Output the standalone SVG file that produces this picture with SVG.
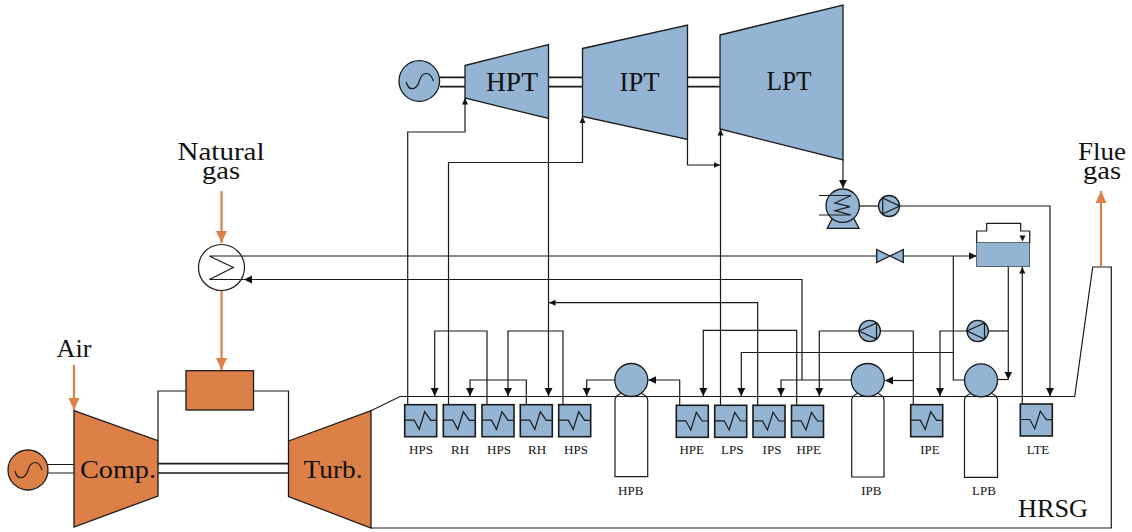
<svg xmlns="http://www.w3.org/2000/svg" xmlns:xlink="http://www.w3.org/1999/xlink" width="1132" height="532" viewBox="0 0 1132 532">
<style>
.l{fill:none;stroke:#1a1a1a;stroke-width:1.2}
.s{fill:none;stroke:#1a1a1a;stroke-width:1.7}
.o{fill:none;stroke:#dc8048;stroke-width:2.2}
.b{fill:#93b4d2;stroke:#1a1a1a;stroke-width:1.3}
.h{fill:#93b4d2;stroke:#1a1a1a;stroke-width:1.6}
.r{fill:#dc8048;stroke:#1a1a1a;stroke-width:1.3}
.w{fill:#fff;stroke:#1a1a1a;stroke-width:1.2}
.z{fill:none;stroke:#1a1a1a;stroke-width:1.2}
text{font-family:"Liberation Serif","Times New Roman",serif;fill:#111;text-anchor:middle}
.t{font-size:28px}
.g{font-size:26px}
.n{font-size:13px}
</style>
<defs>
<marker id="a" markerUnits="userSpaceOnUse" markerWidth="9" markerHeight="9" refX="8" refY="4.5" orient="auto"><path d="M0,0.5L8,4.5L0,8.500Z" fill="#111"/></marker>
<marker id="m" markerUnits="userSpaceOnUse" markerWidth="7" markerHeight="7" refX="6.500" refY="3.500" orient="auto"><path d="M0,0.500L6.500,3.500L0,6.500Z" fill="#111"/></marker>
<marker id="c" markerUnits="userSpaceOnUse" markerWidth="13" markerHeight="13" refX="12" refY="6" orient="auto"><path d="M0,0.500L12,6L0,11.500Z" fill="#dc8048"/></marker>
<g id="hx"><rect class="h" width="32" height="32"/><path class="z" d="M0,15.500H9.500L14.500,24.700L20,7L26,15.700H32"/></g>
<path id="sine" class="z" d="M-13,1C-11,10,-3,10,0,0C3,-10,11,-10,14,0"/>
</defs>

<g id="connectors">
<path class="l" d="M371,410.700L400,396.500H1074.700L1092.700,267H1111.300V528H371"/>
<path class="l" d="M158,441V391H186M253.500,391H288.500V441"/>
<path class="s" d="M158,463.700H288.500M158,473H288.500"/>
<path class="l" d="M47,464.500H74M47,473H74"/>
<path class="o" marker-end="url(#c)" d="M74,365V410"/>
<path class="o" marker-end="url(#c)" d="M221.500,191V243"/>
<path class="o" marker-end="url(#c)" d="M221.500,291V370"/>
<path class="o" marker-end="url(#c)" d="M1101,266V191"/>
<path class="s" d="M440,77.300H465M440,86.700H465M548.500,77.300H582.500M548.500,86.700H582.500M687.500,77.300H720M687.500,86.700H720"/>
<path class="l" marker-end="url(#m)" d="M407.700,405V132H465V98"/>
<path class="l" marker-end="url(#m)" d="M448.500,405V162.500H582.500V116.500"/>
<path class="l" marker-end="url(#m)" d="M687.500,139.500V165H720"/>
<path class="l" marker-end="url(#m)" d="M720.500,405V129"/>
<path class="l" marker-end="url(#a)" d="M548.500,118.500V396"/>
<path class="l" marker-end="url(#m)" d="M757.700,405V302.700H549"/>
<path class="l" marker-end="url(#a)" d="M487,405V331H434.700V396"/>
<path class="l" marker-end="url(#a)" d="M526.300,405V380H470V396"/>
<path class="l" marker-end="url(#a)" d="M563,405V331H508V396"/>
<path class="l" marker-end="url(#a)" d="M615,380H586.700V396"/>
<path class="l" marker-end="url(#a)" d="M679.700,405V380H648.300"/>
<path class="l" marker-end="url(#a)" d="M796.700,405V330.300H703.300V396"/>
<path class="l" marker-end="url(#a)" d="M953.300,352.500H741.300V396"/>
<path class="l" marker-end="url(#a)" d="M851.700,380H781V396"/>
<path class="l" marker-end="url(#a)" d="M859,331H819.300V396"/>
<path class="l" d="M880,331H913.300V405"/>
<path class="l" marker-end="url(#a)" d="M913.300,380.500H885"/>
<path class="l" marker-end="url(#a)" d="M967,331H940V396"/>
<path class="l" d="M988,331H1008.300"/>
<path class="l" marker-end="url(#a)" d="M1008.300,266.700V379.500"/>
<path class="l" d="M1008.300,379.500H997.500"/>
<path class="l" d="M953.300,256V380H965"/>
<path class="l" marker-end="url(#m)" d="M1022.300,404V267"/>
<path class="l" marker-end="url(#a)" d="M899.500,206H1050V396"/>
<path class="l" marker-end="url(#a)" d="M843,160V188"/>
<path class="l" d="M859.500,206H879"/>
<path class="l" d="M244,256H876.700"/>
<path class="l" marker-end="url(#a)" d="M903.300,256H976.700"/>
<path class="l" marker-end="url(#a)" d="M802,380V279.500H244"/>
</g>

<g id="gen1"><circle class="r" cx="28" cy="470" r="20"/><use xlink:href="#sine" href="#sine" x="28" y="470"/></g>
<g id="comp"><path class="r" d="M74,410.700L158,440.700V496L74,527Z"/><text class="g" x="118" y="478" textLength="76" lengthAdjust="spacingAndGlyphs">Comp.</text></g>
<g id="turb"><path class="r" d="M288.500,441L371,410.700V528L288.500,496.500Z"/><text class="g" x="333" y="478" textLength="59" lengthAdjust="spacingAndGlyphs">Turb.</text></g>
<g id="combustor"><rect class="r" x="186" y="370.700" width="67.500" height="39.300"/></g>
<g id="gas-heater"><circle class="w" cx="221.500" cy="267.500" r="23"/><path class="z" d="M209.300,256L233.300,267.500L209.300,279.500M209.300,256H244.500M209.300,279.500H244"/></g>

<g id="gen2"><circle class="b" cx="419.300" cy="81" r="20.300"/><use xlink:href="#sine" href="#sine" x="419.300" y="81"/></g>
<g id="hpt"><path class="b" d="M465,65.500L548.500,44.500V118.500L465,98Z"/><text class="t" x="512" y="91" textLength="52" lengthAdjust="spacingAndGlyphs">HPT</text></g>
<g id="ipt"><path class="b" d="M582.500,48.500L687.500,25V139.500L582.500,116.500Z"/><text class="t" x="639.500" y="91" textLength="40" lengthAdjust="spacingAndGlyphs">IPT</text></g>
<g id="lpt"><path class="b" d="M720,35L843,5V160L720,129Z"/><text class="t" x="789" y="90" textLength="45" lengthAdjust="spacingAndGlyphs">LPT</text></g>

<g id="condenser"><path class="b" d="M827.300,228.300L833,217H853L859,228.300Z"/><circle class="b" cx="842.700" cy="205.700" r="16.700"/><path class="z" d="M819,195.500H851L835,203L850,206.700L835,210.700L851,215H819"/></g>
<g id="pump1"><circle class="b" cx="889" cy="206" r="10.500"/><path class="z" d="M882.700,198V214L899.500,206Z"/></g>
<g id="pump2"><circle class="b" cx="869.700" cy="331" r="10.700"/><path class="z" d="M876.500,323V339L859,331Z"/></g>
<g id="pump3"><circle class="b" cx="977.700" cy="331" r="10.700"/><path class="z" d="M984.500,323V339L967,331Z"/></g>
<g id="valve"><path class="b" d="M876.700,249.500L903.300,262.500V249.500L876.700,262.500Z"/></g>
<g id="tank"><path class="w" d="M976.700,243V231H986.700V223.300H1020.700V231H1029.700V243"/><rect class="b" x="976.700" y="242.500" width="53" height="24.200" style="stroke-width:.6"/><path d="M1019.500,235.500H1025.500L1022.500,241.500Z" fill="#111"/></g>

<g id="hx1"><use xlink:href="#hx" href="#hx" x="404.700" y="404.700"/><text class="n" x="421" y="454">HPS</text></g>
<g id="hx2"><use xlink:href="#hx" href="#hx" x="443.300" y="404.700"/><text class="n" x="460" y="454">RH</text></g>
<g id="hx3"><use xlink:href="#hx" href="#hx" x="482" y="404.700"/><text class="n" x="499" y="454">HPS</text></g>
<g id="hx4"><use xlink:href="#hx" href="#hx" x="520.300" y="404.700"/><text class="n" x="537" y="454">RH</text></g>
<g id="hx5"><use xlink:href="#hx" href="#hx" x="558.700" y="404.700"/><text class="n" x="576" y="454">HPS</text></g>
<g id="hx6"><use xlink:href="#hx" href="#hx" x="676.300" y="405.300"/><text class="n" x="691.700" y="454">HPE</text></g>
<g id="hx7"><use xlink:href="#hx" href="#hx" x="714.700" y="405.300"/><text class="n" x="732.300" y="454">LPS</text></g>
<g id="hx8"><use xlink:href="#hx" href="#hx" x="753" y="405.300"/><text class="n" x="772" y="454">IPS</text></g>
<g id="hx9"><use xlink:href="#hx" href="#hx" x="791.500" y="405.300"/><text class="n" x="808.700" y="454">HPE</text></g>
<g id="hx10"><use xlink:href="#hx" href="#hx" x="910.700" y="404.700"/><text class="n" x="930" y="454">IPE</text></g>
<g id="hx11"><use xlink:href="#hx" href="#hx" x="1020.300" y="404"/><text class="n" x="1038" y="454">LTE</text></g>

<g id="hpb"><path class="w" style="fill:none" d="M621,393.500Q615,396 615,400V476.700H647.700V400Q647.700,396 641.500,393.500"/><circle class="b" cx="631.300" cy="380" r="16.500"/><text class="n" x="630.700" y="495">HPB</text></g>
<g id="ipb"><path class="w" style="fill:none" d="M857.500,393.500Q851.700,396 851.700,400V477H884V400Q884,396 878,393.500"/><circle class="b" cx="867.700" cy="380" r="16.500"/><text class="n" x="871.300" y="495">IPB</text></g>
<g id="lpb"><path class="w" style="fill:none" d="M970.500,393.500Q964.500,396 964.500,400V477.300H997.500V400Q997.500,396 991.500,393.500"/><circle class="b" cx="981" cy="380.300" r="16.500"/><text class="n" x="984" y="495">LPB</text></g>

<g id="labels">
<text class="g" x="221" y="160" textLength="87" lengthAdjust="spacingAndGlyphs">Natural</text>
<text class="g" x="221" y="179" textLength="38" lengthAdjust="spacingAndGlyphs">gas</text>
<text class="g" x="74" y="357" textLength="35" lengthAdjust="spacingAndGlyphs">Air</text>
<text class="g" x="1102" y="160" textLength="48" lengthAdjust="spacingAndGlyphs">Flue</text>
<text class="g" x="1102" y="179" textLength="38" lengthAdjust="spacingAndGlyphs">gas</text>
<text class="g" x="1053" y="517" textLength="70" lengthAdjust="spacingAndGlyphs">HRSG</text>
</g>
</svg>
